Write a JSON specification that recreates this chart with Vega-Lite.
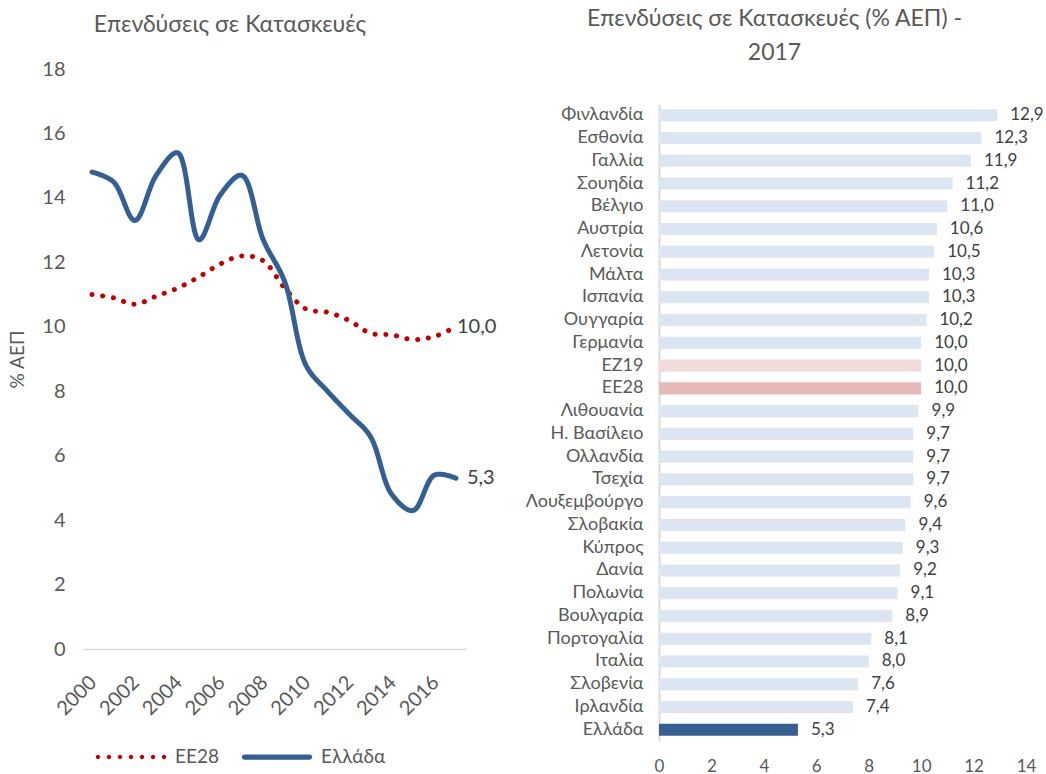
{
  "$schema": "https://vega.github.io/schema/vega-lite/v6.json",
  "padding": {"left": 8, "top": 8, "right": 2, "bottom": 2},
  "background": "white",
  "config": {
    "view": {"stroke": null},
    "font": "Lato, Noto Sans, sans-serif",
    "locale": {"number": {"decimal": ",", "thousands": ".", "grouping": [3], "currency": ["", " €"]}},
    "axis": {"labelColor": "#595959", "titleColor": "#595959", "ticks": false, "grid": false, "domain": false, "labelFont": "Lato, Noto Sans, sans-serif", "titleFont": "Lato, Noto Sans, sans-serif"},
    "title": {"color": "#595959", "fontWeight": "normal", "fontSize": 23, "font": "Lato, Noto Sans, sans-serif"},
    "legend": {"labelFont": "Lato, Noto Sans, sans-serif"}
  },
  "align": "none",
  "spacing": 28,
  "resolve": {"scale": {"color": "independent", "strokeDash": "independent", "shape": "independent"}, "legend": {"color": "independent", "strokeDash": "independent", "shape": "independent"}},
  "hconcat": [
    {
      "title": {"text": "Επενδύσεις σε Κατασκευές", "anchor": "start", "dx": 85, "offset": 22},
      "width": 383,
      "height": 580,
      "data": {"values": [
        {"year": 2000, "series": "ΕΕ28", "value": 11.0},
        {"year": 2001, "series": "ΕΕ28", "value": 10.9},
        {"year": 2002, "series": "ΕΕ28", "value": 10.7},
        {"year": 2003, "series": "ΕΕ28", "value": 10.95},
        {"year": 2004, "series": "ΕΕ28", "value": 11.2},
        {"year": 2005, "series": "ΕΕ28", "value": 11.55},
        {"year": 2006, "series": "ΕΕ28", "value": 11.95},
        {"year": 2007, "series": "ΕΕ28", "value": 12.2},
        {"year": 2008, "series": "ΕΕ28", "value": 12.05},
        {"year": 2009, "series": "ΕΕ28", "value": 11.2},
        {"year": 2010, "series": "ΕΕ28", "value": 10.55},
        {"year": 2011, "series": "ΕΕ28", "value": 10.45},
        {"year": 2012, "series": "ΕΕ28", "value": 10.2},
        {"year": 2013, "series": "ΕΕ28", "value": 9.8},
        {"year": 2014, "series": "ΕΕ28", "value": 9.75},
        {"year": 2015, "series": "ΕΕ28", "value": 9.6},
        {"year": 2016, "series": "ΕΕ28", "value": 9.7},
        {"year": 2017, "series": "ΕΕ28", "value": 10.0},
        {"year": 2000, "series": "Ελλάδα", "value": 14.8},
        {"year": 2001, "series": "Ελλάδα", "value": 14.5},
        {"year": 2002, "series": "Ελλάδα", "value": 13.3},
        {"year": 2003, "series": "Ελλάδα", "value": 14.7},
        {"year": 2004, "series": "Ελλάδα", "value": 15.4},
        {"year": 2005, "series": "Ελλάδα", "value": 12.7},
        {"year": 2006, "series": "Ελλάδα", "value": 14.1},
        {"year": 2007, "series": "Ελλάδα", "value": 14.7},
        {"year": 2008, "series": "Ελλάδα", "value": 12.7},
        {"year": 2009, "series": "Ελλάδα", "value": 11.4},
        {"year": 2010, "series": "Ελλάδα", "value": 8.8},
        {"year": 2011, "series": "Ελλάδα", "value": 8.0},
        {"year": 2012, "series": "Ελλάδα", "value": 7.3},
        {"year": 2013, "series": "Ελλάδα", "value": 6.6},
        {"year": 2014, "series": "Ελλάδα", "value": 4.8},
        {"year": 2015, "series": "Ελλάδα", "value": 4.3},
        {"year": 2016, "series": "Ελλάδα", "value": 5.4},
        {"year": 2017, "series": "Ελλάδα", "value": 5.3}
      ]},
      "encoding": {
        "x": {"field": "year", "type": "quantitative",
          "scale": {"domain": [1999.58, 2017.47], "nice": false, "zero": false},
          "axis": {"values": [2000, 2002, 2004, 2006, 2008, 2010, 2012, 2014, 2016], "format": "d", "labelAngle": -45, "labelAlign": "right", "labelBaseline": "middle", "labelFontSize": 20, "labelPadding": 30, "labelOffset": 1, "labelFlush": false, "labelOverlap": false, "domain": true, "domainColor": "#D9D9D9", "domainWidth": 1.5, "title": null}},
        "y": {"field": "value", "type": "quantitative",
          "scale": {"domain": [0, 18], "nice": false},
          "axis": {"values": [0, 2, 4, 6, 8, 10, 12, 14, 16, 18], "title": "% ΑΕΠ", "titleFontSize": 19, "titleFontWeight": "normal", "labelFontSize": 20, "labelPadding": 18, "titlePadding": 14}}
      },
      "layer": [
        {
          "mark": {"type": "line", "interpolate": "catmull-rom", "strokeCap": "round", "strokeJoin": "round", "strokeWidth": 5},
          "encoding": {
            "color": {"field": "series", "type": "nominal",
              "scale": {"domain": ["ΕΕ28", "Ελλάδα"], "range": ["#C00000", "#335F93"]},
              "legend": {"title": null, "orient": "none", "legendX": 13, "legendY": 653, "direction": "horizontal", "symbolSize": 4900, "symbolStrokeWidth": 0, "labelFontSize": 19, "labelColor": "#595959", "labelOffset": 9, "columnPadding": 22}},
            "strokeDash": {"field": "series", "type": "nominal",
              "scale": {"domain": ["ΕΕ28", "Ελλάδα"], "range": [[0.1, 10.7], [1, 0]]},
              "legend": null}
          }
        },
        {
          "transform": [{"filter": "false"}],
          "mark": {"type": "point", "filled": true, "opacity": 1},
          "encoding": {
            "color": {"field": "series", "type": "nominal",
              "legend": {"title": null, "orient": "none", "legendX": 13, "legendY": 653, "direction": "horizontal", "symbolSize": 4900, "symbolStrokeWidth": 0, "labelFontSize": 19, "labelColor": "#595959", "labelOffset": 9, "columnPadding": 22}},
            "shape": {"field": "series", "type": "nominal",
              "scale": {"domain": ["ΕΕ28", "Ελλάδα"], "range": [
                "M-1.006,0a0.063,0.063 0 1,0 0.126,0a0.063,0.063 0 1,0 -0.126,0M-0.692,0a0.063,0.063 0 1,0 0.126,0a0.063,0.063 0 1,0 -0.126,0M-0.377,0a0.063,0.063 0 1,0 0.126,0a0.063,0.063 0 1,0 -0.126,0M-0.063,0a0.063,0.063 0 1,0 0.126,0a0.063,0.063 0 1,0 -0.126,0M0.251,0a0.063,0.063 0 1,0 0.126,0a0.063,0.063 0 1,0 -0.126,0M0.566,0a0.063,0.063 0 1,0 0.126,0a0.063,0.063 0 1,0 -0.126,0M0.880,0a0.063,0.063 0 1,0 0.126,0a0.063,0.063 0 1,0 -0.126,0",
                "M-0.93,-0.075L0.93,-0.075A0.075,0.075 0 0 1 0.93,0.075L-0.93,0.075A0.075,0.075 0 0 1 -0.93,-0.075Z"
              ]},
              "legend": {"title": null, "orient": "none", "legendX": 13, "legendY": 653, "direction": "horizontal", "symbolSize": 4900, "symbolStrokeWidth": 0, "labelFontSize": 19, "labelColor": "#595959", "labelOffset": 9, "columnPadding": 22}}
          }
        },
        {
          "transform": [{"filter": "datum.series == 'ΕΕ28' && datum.year == 2017"}],
          "mark": {"type": "text", "align": "left", "dx": 1, "fontSize": 20, "color": "#404040"},
          "encoding": {"text": {"field": "value", "type": "quantitative", "format": ".1f"}}
        },
        {
          "transform": [{"filter": "datum.series == 'Ελλάδα' && datum.year == 2017"}],
          "mark": {"type": "text", "align": "left", "dx": 11, "fontSize": 20, "color": "#404040"},
          "encoding": {"text": {"field": "value", "type": "quantitative", "format": ".1f"}}
        }
      ]
    },
    {
      "title": {"text": ["Επενδύσεις σε Κατασκευές (% ΑΕΠ) -", "2017"], "anchor": "middle", "dx": -68, "lineHeight": 34, "offset": 4},
      "width": 367,
      "height": 672,
      "data": {"values": [
        {"country": "Φινλανδία", "group": "Χώρα", "value": 12.9},
        {"country": "Εσθονία", "group": "Χώρα", "value": 12.3},
        {"country": "Γαλλία", "group": "Χώρα", "value": 11.9},
        {"country": "Σουηδία", "group": "Χώρα", "value": 11.2},
        {"country": "Βέλγιο", "group": "Χώρα", "value": 11.0},
        {"country": "Αυστρία", "group": "Χώρα", "value": 10.6},
        {"country": "Λετονία", "group": "Χώρα", "value": 10.5},
        {"country": "Μάλτα", "group": "Χώρα", "value": 10.3},
        {"country": "Ισπανία", "group": "Χώρα", "value": 10.3},
        {"country": "Ουγγαρία", "group": "Χώρα", "value": 10.2},
        {"country": "Γερμανία", "group": "Χώρα", "value": 10.0},
        {"country": "ΕΖ19", "group": "ΕΖ19", "value": 10.0},
        {"country": "ΕΕ28", "group": "ΕΕ28", "value": 10.0},
        {"country": "Λιθουανία", "group": "Χώρα", "value": 9.9},
        {"country": "Η. Βασίλειο", "group": "Χώρα", "value": 9.7},
        {"country": "Ολλανδία", "group": "Χώρα", "value": 9.7},
        {"country": "Τσεχία", "group": "Χώρα", "value": 9.7},
        {"country": "Λουξεμβούργο", "group": "Χώρα", "value": 9.6},
        {"country": "Σλοβακία", "group": "Χώρα", "value": 9.4},
        {"country": "Κύπρος", "group": "Χώρα", "value": 9.3},
        {"country": "Δανία", "group": "Χώρα", "value": 9.2},
        {"country": "Πολωνία", "group": "Χώρα", "value": 9.1},
        {"country": "Βουλγαρία", "group": "Χώρα", "value": 8.9},
        {"country": "Πορτογαλία", "group": "Χώρα", "value": 8.1},
        {"country": "Ιταλία", "group": "Χώρα", "value": 8.0},
        {"country": "Σλοβενία", "group": "Χώρα", "value": 7.6},
        {"country": "Ιρλανδία", "group": "Χώρα", "value": 7.4},
        {"country": "Ελλάδα", "group": "Ελλάδα", "value": 5.3}
      ]},
      "encoding": {
        "y": {"field": "country", "type": "nominal", "sort": null,
          "scale": {"range": [35, 672], "paddingInner": 0.47, "paddingOuter": 0.23},
          "axis": {"title": null, "labelFontSize": 18, "labelPadding": 16, "domain": true, "domainColor": "#D9D9D9", "domainWidth": 2}},
        "x": {"field": "value", "type": "quantitative",
          "scale": {"domain": [0, 14], "nice": false},
          "axis": {"values": [0, 2, 4, 6, 8, 10, 12, 14], "title": null, "labelFontSize": 17, "labelPadding": 17, "labelFlush": false}}
      },
      "layer": [
        {
          "mark": {"type": "bar"},
          "encoding": {
            "color": {"field": "group", "type": "nominal",
              "scale": {"domain": ["Χώρα", "ΕΖ19", "ΕΕ28", "Ελλάδα"], "range": ["#DCE6F2", "#F2DCDB", "#E6B9B8", "#366092"]},
              "legend": null}
          }
        },
        {
          "mark": {"type": "text", "align": "left", "dx": 13, "fontSize": 17, "color": "#404040"},
          "encoding": {"text": {"field": "value", "type": "quantitative", "format": ".1f"}}
        }
      ]
    }
  ]
}
